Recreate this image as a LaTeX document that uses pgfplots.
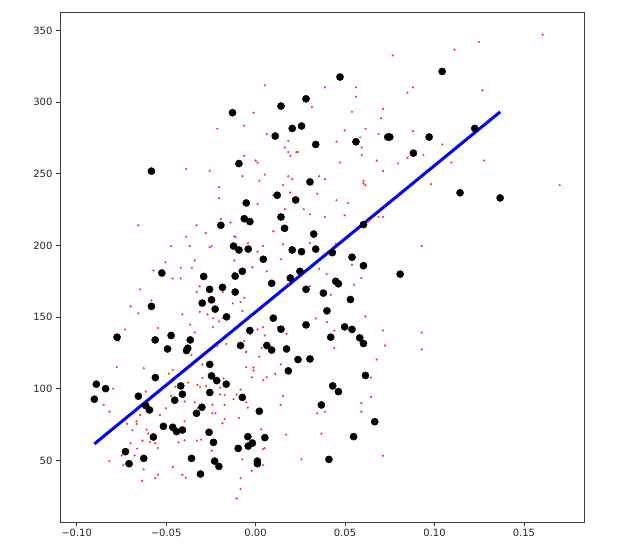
\documentclass[border=0pt]{standalone}
\usepackage{pgfplots}
\pgfplotsset{compat=1.18}
\usepackage{fontspec}
\setmainfont{DejaVu Sans}
\begin{document}
\begin{tikzpicture}
\useasboundingbox (-60pt,-37pt) rectangle (561pt,522pt);
\begin{axis}[
  at={(0pt,0pt)}, anchor=south west,
  scale only axis, width=524.8pt, height=510pt,
  xmin=-0.1093, xmax=0.1840, ymin=7, ymax=363,
  xtick={-0.10,-0.05,0,0.05,0.10,0.15},
  xticklabels={−0.10,−0.05,0.00,0.05,0.10,0.15},
  ytick={50,100,150,200,250,300,350},
  /pgf/number format/assume math mode=true,
  tick label style={font=\fontsize{10}{12}\selectfont, text=black!85},
  tick align=outside, major tick length=4pt,
  tick style={black!80, line width=0.8pt},
  xtick pos=bottom, ytick pos=left,
  axis line style={black!75, line width=0.8pt},
  clip=true,
]
% training data (red)
\addplot[only marks, mark=*, mark size=0.9pt, red!80, mark options={draw=none, fill=red!75}] table {
x y
-0.0214 281.5
-0.0388 253.5
-0.0257 252.1
0.0767 332.7
0.0052 311.8
0.0388 310.4
0.0561 310.4
0.0561 303.9
0.0849 306.6
0.0315 296.6
-0.0011 292.7
0.0539 293.4
0.0712 295.2
0.0701 288.7
-0.0063 283.6
0.0498 280.3
0.0614 281.5
0.0062 277.8
0.0687 277.8
0.0183 273.1
0.0584 275.4
0.0164 268.4
0.0452 272.4
0.0593 268.4
0.0183 265.2
0.0228 265.2
0.0237 265.2
0.0194 262.6
0.0593 263.1
-0.0063 262.6
0.0000 259.3
0.0011 257.9
0.0472 257.9
0.0677 259.3
0.0849 261.2
0.0796 257.2
0.0712 252.1
-0.0073 248.4
0.0052 249.5
0.0183 248.4
0.0205 246.3
0.0021 245.1
0.0356 248.4
0.0388 246.3
0.0603 245.1
0.1604 347.2
0.1248 342.1
0.1112 336.7
0.0880 310.4
0.1268 308.3
0.0880 279.9
0.1043 270.5
0.0938 263.1
0.0960 274.7
0.1095 257.9
0.1278 259.3
0.0981 242.8
0.1700 242.1
0.0929 199.6
0.0929 139.3
0.0929 127.4
-0.0205 240.7
-0.0205 233.0
-0.0194 218.5
-0.0140 216.0
-0.0655 214.1
-0.0330 214.1
-0.0278 208.7
-0.0388 206.2
-0.0119 206.4
-0.0472 199.6
-0.0368 199.6
-0.0257 198.9
-0.0246 199.6
-0.0340 189.6
-0.0119 189.6
-0.0504 188.2
-0.0571 182.6
-0.0418 184.5
-0.0356 184.5
-0.0464 177.0
-0.0418 177.0
-0.0119 181.0
-0.0645 169.4
-0.0312 171.5
-0.0330 167.5
-0.0183 167.5
-0.0582 161.7
-0.0127 159.6
-0.0698 157.5
-0.0655 152.6
-0.0409 151.9
-0.0312 153.7
-0.0269 151.9
-0.0237 149.3
-0.0205 147.0
-0.0183 149.3
-0.0366 144.8
-0.0237 143.2
-0.0545 142.5
-0.0729 141.4
-0.0340 139.3
-0.0766 133.4
-0.0164 131.3
-0.0214 129.9
0.0153 242.1
0.0099 235.1
0.0194 236.9
0.0345 236.2
0.0603 243.2
0.0614 242.1
0.0452 231.6
0.0518 229.7
0.0011 229.0
0.0164 225.3
0.0269 225.3
0.0304 221.8
0.0388 219.9
0.0498 221.1
0.0687 219.9
0.0712 219.9
0.0633 216.9
0.0099 209.9
-0.0112 205.9
-0.0043 201.7
0.0041 199.8
0.0153 200.8
0.0304 201.7
0.0448 201.2
0.0011 195.7
0.0142 190.4
0.0356 183.8
0.0539 186.6
-0.0018 184.8
0.0063 182.0
0.0397 180.0
0.0591 177.3
0.0183 173.3
0.0304 171.5
0.0550 172.6
-0.0063 163.5
0.0420 165.6
-0.0084 160.5
-0.0073 154.4
0.0336 149.1
0.0399 146.5
0.0614 150.5
0.0011 141.4
0.0041 143.0
0.0123 143.2
0.0173 138.3
0.0052 137.2
-0.0030 138.1
0.0440 140.7
0.0712 140.7
-0.0063 133.4
0.0034 128.5
0.0440 128.5
0.0724 130.2
-0.0052 126.0
-0.0776 115.0
-0.0625 114.3
-0.0484 110.6
-0.0463 113.1
-0.0796 100.1
-0.0614 98.0
-0.0448 101.5
-0.0377 104.3
-0.0358 123.6
-0.0297 117.0
-0.0297 107.6
-0.0325 102.7
-0.0310 101.3
-0.0278 102.0
-0.0179 107.2
-0.0198 100.8
-0.0198 96.0
-0.0173 95.7
-0.0123 92.7
-0.0173 88.7
-0.0241 88.9
-0.0340 90.6
-0.0396 91.1
-0.0472 95.0
-0.0849 88.7
-0.0817 84.0
-0.0645 81.7
-0.0535 81.7
-0.0502 86.4
-0.0323 86.6
-0.0242 82.9
-0.0224 82.9
-0.0173 78.8
-0.0185 75.9
-0.0718 75.6
-0.0666 77.3
-0.0665 75.4
-0.0688 71.0
-0.0609 71.5
-0.0600 68.7
-0.0632 63.8
-0.0590 62.8
-0.0560 62.0
-0.0698 61.9
-0.0547 58.6
-0.0662 58.2
-0.0430 62.6
-0.0397 64.0
-0.0397 77.3
-0.0328 63.8
-0.0304 64.5
-0.0245 56.8
-0.0242 61.0
-0.0748 53.5
-0.0676 53.5
-0.0739 46.7
-0.0817 49.5
-0.0463 45.5
-0.0625 43.7
-0.0634 35.8
-0.0561 37.6
-0.0545 40.0
-0.0409 40.0
-0.0390 37.9
-0.0054 125.5
0.0021 122.3
0.0142 117.0
-0.0052 115.0
-0.0011 114.8
-0.0011 112.7
-0.0021 108.0
0.0062 108.0
0.0043 106.0
0.0110 110.4
0.0677 120.4
0.0644 107.8
0.0644 94.3
-0.0084 99.4
-0.0106 95.9
-0.0052 90.6
-0.0043 86.8
0.0153 94.8
0.0140 88.7
0.0388 84.0
0.0345 82.9
0.0591 90.0
0.0591 84.0
-0.0093 79.6
0.0032 71.7
0.0171 68.0
0.0368 68.7
0.0052 58.6
0.0041 57.9
-0.0074 50.7
0.0041 46.7
-0.0021 42.8
0.0256 50.7
0.0712 53.3
-0.0084 37.6
-0.0084 30.0
-0.0106 23.4
};
% test data (black)
\addplot[only marks, mark=*, mark size=3.6pt, black, mark options={draw=none, fill=black}] table {
x y
-0.0582 251.9
-0.0129 292.7
0.0142 297.3
0.0205 281.7
0.0257 283.4
0.0282 302.4
0.0472 317.6
0.1043 321.5
0.1225 281.7
0.0110 276.4
0.0336 270.5
0.0561 272.4
0.0739 275.7
0.0750 275.7
0.0970 275.7
0.0882 264.5
-0.0093 257.2
0.0304 244.4
0.0224 231.8
0.0121 235.1
-0.0052 229.7
0.1143 236.8
0.1367 233.2
-0.0194 214.1
-0.0123 199.6
-0.0524 180.8
-0.0290 178.4
-0.0185 170.8
-0.0257 169.4
-0.0114 178.6
-0.0114 167.5
-0.0246 162.1
-0.0298 159.8
-0.0582 157.5
-0.0226 155.6
-0.0162 150.2
-0.0774 136.0
-0.0561 134.1
-0.0472 137.2
-0.0365 134.1
-0.0492 127.8
-0.0379 128.3
-0.0386 126.7
-0.0063 218.7
-0.0032 216.7
0.0142 219.9
0.0162 212.0
0.0325 208.0
0.0603 214.6
-0.0093 196.9
-0.0041 197.5
0.0205 196.9
0.0257 195.7
0.0336 197.5
0.0429 195.0
0.0539 191.8
0.0603 185.9
0.0808 180.0
0.0043 190.4
-0.0074 182.0
0.0248 182.0
0.0090 173.6
0.0194 177.3
0.0448 175.0
0.0463 173.3
0.0282 169.4
0.0379 166.8
0.0530 162.3
0.0399 154.4
0.0099 149.3
-0.0032 140.7
0.0142 141.6
0.0282 144.6
0.0498 143.2
0.0539 141.4
0.0420 136.0
0.0582 135.5
0.0603 131.6
-0.0084 130.2
0.0063 130.2
0.0090 127.0
0.0173 127.8
-0.0256 117.0
-0.0246 109.0
-0.0217 105.7
-0.0164 103.2
-0.0256 97.4
-0.0560 107.8
-0.0890 103.2
-0.0838 100.1
-0.0901 92.7
-0.0655 94.8
-0.0614 88.3
-0.0593 85.2
-0.0418 102.0
-0.0409 96.2
-0.0452 92.0
-0.0300 87.1
-0.0330 82.9
-0.0515 73.8
-0.0463 73.1
-0.0442 70.1
-0.0409 71.2
-0.0571 66.3
-0.0260 69.6
-0.0235 62.6
-0.0727 56.1
-0.0625 51.4
-0.0707 47.7
-0.0358 51.4
-0.0229 49.5
-0.0205 45.8
-0.0308 40.5
0.0237 120.4
0.0304 120.8
0.0183 112.5
0.0614 109.3
0.0431 102.0
0.0463 98.0
-0.0074 94.0
0.0021 84.3
0.0368 88.7
0.0666 77.0
-0.0043 66.6
0.0052 65.9
-0.0018 62.1
-0.0041 60.0
-0.0097 58.4
0.0548 66.6
0.0010 49.5
0.0010 47.7
0.0410 50.7
};
% regression line (blue)
\addplot[blue, line width=3pt] coordinates {(-0.0901,61.5) (0.1367,293.3)};
\end{axis}
\end{tikzpicture}
\end{document}
